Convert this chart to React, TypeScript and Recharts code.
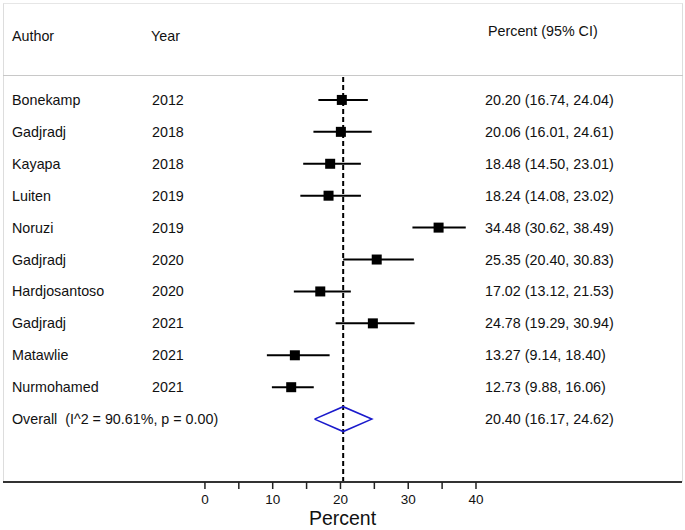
import React from 'react';
import { ScatterChart, Scatter, XAxis, YAxis, ErrorBar, ReferenceLine } from 'recharts';

const authors = ['Bonekamp', 'Gadjradj', 'Kayapa', 'Luiten', 'Noruzi', 'Gadjradj', 'Hardjosantoso', 'Gadjradj', 'Matawlie', 'Nurmohamed'];
const years = ['2012', '2018', '2018', '2019', '2019', '2020', '2020', '2021', '2021', '2021'];
const estimates = [20.20, 20.06, 18.48, 18.24, 34.48, 25.35, 17.02, 24.78, 13.27, 12.73];
const lowers = [16.74, 16.01, 14.50, 14.08, 30.62, 20.40, 13.12, 19.29, 9.14, 9.88];
const uppers = [24.04, 24.61, 23.01, 23.02, 38.49, 30.83, 21.53, 30.94, 18.40, 16.06];

const overallLabel = 'Overall  (I^2 = 90.61%, p = 0.00)';
const overallEst = 20.40;
const overallLo = 16.17;
const overallHi = 24.62;

const xTicks = [0, 5, 10, 15, 20, 25, 30, 35, 40];
const xLabelTicks = [0, 10, 20, 30, 40];

const FONT = '"Liberation Sans", Arial, Helvetica, sans-serif';
const fmt = (v: number) => v.toFixed(2);

const studies = estimates.map((e, i) => ({
  author: authors[i],
  year: years[i],
  x: e,
  y: i + 1,
  err: [e - lowers[i], uppers[i] - e],
  ci: `${fmt(e)} (${fmt(lowers[i])}, ${fmt(uppers[i])})`,
}));

const overallRow = studies.length + 1;
const overallPoint = [{ x: overallEst, y: overallRow, ci: `${fmt(overallEst)} (${fmt(overallLo)}, ${fmt(overallHi)})` }];
const diamond = [
  { x: overallLo, y: overallRow },
  { x: overallEst, y: overallRow - 0.39 },
  { x: overallHi, y: overallRow },
  { x: overallEst, y: overallRow + 0.39 },
  { x: overallLo, y: overallRow },
];

const textStyle = { fontFamily: FONT, fontSize: 14.3, fill: '#111', whiteSpace: 'pre' as const };

const StudyShape = (props: any) => {
  const { cx, cy, payload } = props;
  return (
    <g>
      <rect x={cx - 5} y={cy - 5} width={10} height={10} fill="#000" />
      <text x={12} y={cy} dominantBaseline="central" style={textStyle}>{payload.author}</text>
      <text x={152} y={cy} dominantBaseline="central" style={textStyle}>{payload.year}</text>
      <text x={485} y={cy} dominantBaseline="central" style={textStyle}>{payload.ci}</text>
    </g>
  );
};

const OverallShape = (props: any) => {
  const { cy, payload } = props;
  return (
    <g>
      <text x={12} y={cy} dominantBaseline="central" xmlSpace="preserve" style={textStyle}>{overallLabel}</text>
      <text x={485} y={cy} dominantBaseline="central" style={textStyle}>{payload.ci}</text>
    </g>
  );
};

const NoShape = () => <g />;

const headStyle = { position: 'absolute' as const, transform: 'translateY(-50%)', fontFamily: FONT, fontSize: 14.3, color: '#111', lineHeight: 1, whiteSpace: 'pre' as const };

export default function App() {
  return (
    <div style={{ position: 'absolute', left: 0, top: 0, width: 685, height: 530, background: '#fff' }}>
      <div style={{ position: 'absolute', left: 3, top: 3, width: 678, height: 478, borderLeft: '1px solid #ddd', borderTop: '1px solid #e6e6e6', borderRight: '1px solid #ddd' }} />
      <div style={{ position: 'absolute', left: 3, top: 75, width: 680, height: 0, borderTop: '1.5px solid #c8c8c8' }} />
      <div style={{ ...headStyle, left: 12, top: 36 }}>Author</div>
      <div style={{ ...headStyle, left: 151, top: 36 }}>Year</div>
      <div style={{ ...headStyle, left: 488, top: 31 }}>Percent (95% CI)</div>
      <div style={{ position: 'absolute', left: 0, top: 0 }}>
        <ScatterChart width={685} height={530} margin={{ top: 76, right: 3, bottom: 0, left: 3 }}>
          <XAxis
            type="number"
            dataKey="x"
            domain={[-29.8, 70.4]}
            ticks={xTicks}
            tickFormatter={(v: number) => (xLabelTicks.includes(v) ? String(v) : '')}
            allowDataOverflow
            height={48}
            stroke="#222"
            axisLine={{ stroke: '#333', strokeWidth: 2 }}
            tickLine={{ stroke: '#222', strokeWidth: 1.5 }}
            tickSize={7}
            tickMargin={5}
            tick={{ fontFamily: FONT, fontSize: 13.5, fill: '#111' }}
            label={{ value: 'Percent', position: 'insideBottom', offset: 5, style: { fontFamily: FONT, fontSize: 19.5, fill: '#111' } }}
          />
          <YAxis type="number" dataKey="y" domain={[0.25, 12.97]} reversed hide allowDataOverflow />
          <ReferenceLine x={overallEst} stroke="#000" strokeWidth={2} strokeDasharray="5 3" ifOverflow="extendDomain" />
          <Scatter data={studies} shape={StudyShape} isAnimationActive={false}>
            <ErrorBar dataKey="err" direction="x" width={0} stroke="#000" strokeWidth={2} />
          </Scatter>
          <Scatter data={diamond} shape={NoShape} line={{ stroke: '#1a1acc', strokeWidth: 1.6 }} isAnimationActive={false} />
          <Scatter data={overallPoint} shape={OverallShape} isAnimationActive={false} />
        </ScatterChart>
      </div>
    </div>
  );
}
